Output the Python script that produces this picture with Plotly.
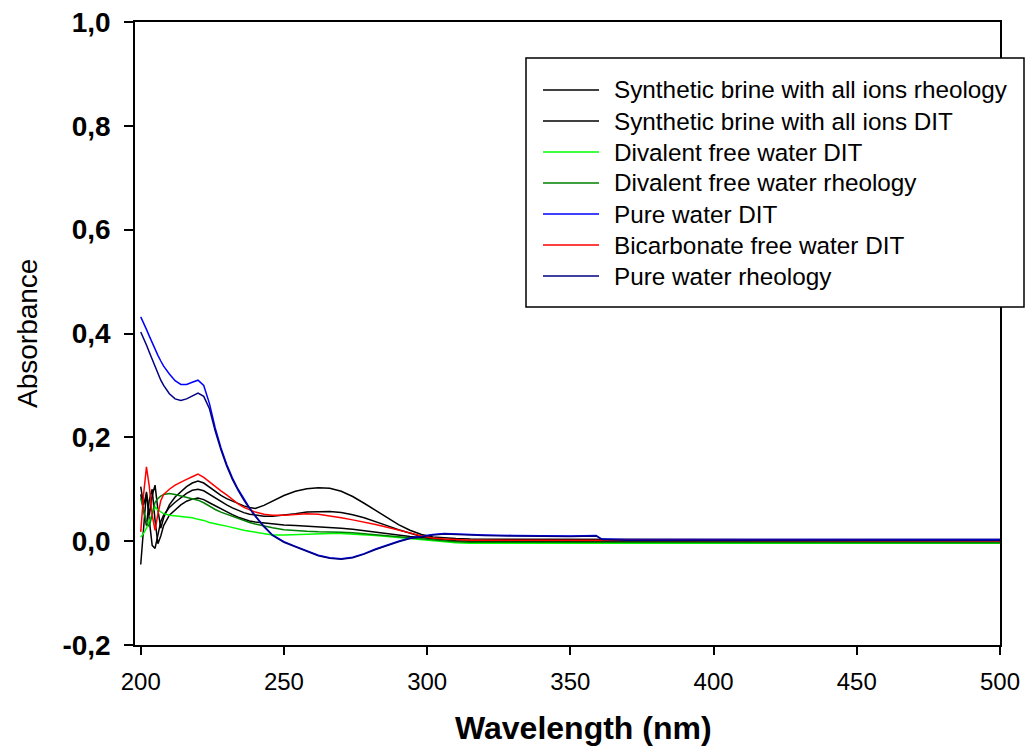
import plotly.graph_objects as go

wavelength = [200, 201, 202, 203, 204, 205, 206, 207, 208,
              210, 212, 214, 216, 218, 220, 222, 224, 226, 228, 230, 232, 234, 236, 238, 240,
              243, 246,
              250, 254, 258, 262, 266, 270, 274, 278, 282, 286, 290, 294, 298,
              302, 306, 310, 315, 320, 330, 340, 350, 359, 361, 370, 380,
              400, 420, 440, 460, 480, 500]

brine_rheology = [0.105, 0.070, 0.092, 0.050, 0.088, 0.108, 0.060, 0.025, 0.045,
                  0.070, 0.085, 0.096, 0.105, 0.112, 0.116, 0.112, 0.104, 0.096, 0.088, 0.082, 0.077, 0.072, 0.068, 0.065, 0.063,
                  0.069, 0.077,
                  0.088, 0.096, 0.101, 0.103, 0.102, 0.096, 0.086, 0.073, 0.059, 0.045, 0.032, 0.021, 0.013,
                  0.008, 0.006, 0.005, 0.004, 0.004, 0.003, 0.003, 0.003, 0.004, 0.003, 0.003, 0.003,
                  0.003, 0.003, 0.003, 0.003, 0.003, 0.003]

brine_dit = [-0.045, 0.020, 0.095, 0.040, -0.008, -0.014, 0.015, 0.038, 0.050,
             0.065, 0.075, 0.084, 0.092, 0.098, 0.100, 0.097, 0.090, 0.083, 0.076, 0.070, 0.064, 0.059, 0.055, 0.052, 0.050,
             0.048, 0.048,
             0.050, 0.053, 0.056, 0.057, 0.057, 0.055, 0.051, 0.045, 0.038, 0.030, 0.022, 0.015, 0.009,
             0.005, 0.002, 0.000, -0.001, 0.000, 0.000, 0.001, 0.001, 0.001, 0.001, 0.001, 0.001,
             0.001, 0.001, 0.001, 0.001, 0.001, 0.001]

brine_extra = [0.090, 0.060, 0.030, 0.080, 0.100, 0.040, -0.005, 0.010, 0.030,
               0.050, 0.060, 0.070, 0.077, 0.081, 0.083, 0.080, 0.074, 0.068, 0.062, 0.056, 0.051, 0.046, 0.042, 0.039, 0.037,
               0.035, 0.033,
               0.031, 0.030, 0.029, 0.028, 0.027, 0.025, 0.023, 0.020, 0.018, 0.015, 0.012, 0.009, 0.007,
               0.004, 0.002, 0.001, 0.000, 0.000, 0.000, 0.000, 0.000, 0.001, 0.001, 0.001, 0.001,
               0.001, 0.001, 0.001, 0.001, 0.001, 0.001]

divalent_free_dit = [0.008, 0.015, 0.025, 0.040, 0.055, 0.066, 0.060, 0.056, 0.053,
                     0.050, 0.049, 0.047, 0.046, 0.045, 0.042, 0.040, 0.036, 0.033, 0.031, 0.029, 0.026, 0.023, 0.021, 0.019, 0.017,
                     0.014, 0.012,
                     0.012, 0.013, 0.014, 0.015, 0.015, 0.015, 0.014, 0.013, 0.011, 0.009, 0.007, 0.005, 0.003,
                     0.000, -0.002, -0.003, -0.004, -0.004, -0.004, -0.004, -0.004, -0.004, -0.004, -0.004, -0.004,
                     -0.004, -0.004, -0.004, -0.004, -0.004, -0.004]

divalent_free_rheology = [0.083, 0.060, 0.035, 0.028, 0.050, 0.075, 0.082, 0.087, 0.090,
                          0.092, 0.090, 0.087, 0.084, 0.081, 0.079, 0.074, 0.067, 0.061, 0.056, 0.052, 0.047, 0.043, 0.039, 0.036, 0.033,
                          0.029, 0.026,
                          0.022, 0.020, 0.019, 0.018, 0.018, 0.017, 0.016, 0.014, 0.012, 0.010, 0.008, 0.006, 0.004,
                          0.002, 0.000, -0.001, -0.002, -0.002, -0.003, -0.003, -0.003, -0.003, -0.003, -0.003, -0.003,
                          -0.003, -0.003, -0.003, -0.003, -0.003, -0.003]

pure_water_dit = [0.432, 0.421, 0.408, 0.395, 0.382, 0.370, 0.358, 0.347, 0.337,
                  0.322, 0.309, 0.302, 0.302, 0.306, 0.310, 0.300, 0.265, 0.218, 0.180, 0.148, 0.122, 0.100, 0.081, 0.064, 0.049,
                  0.029, 0.012,
                  -0.001, -0.010, -0.019, -0.027, -0.032, -0.034, -0.031, -0.024, -0.015, -0.007, 0.000, 0.006, 0.010,
                  0.013, 0.015, 0.014, 0.013, 0.012, 0.011, 0.010, 0.010, 0.011, 0.004, 0.003, 0.003,
                  0.003, 0.003, 0.003, 0.003, 0.003, 0.003]

bicarbonate_free_dit = [0.018, 0.090, 0.143, 0.105, 0.050, 0.021, 0.052, 0.078, 0.090,
                        0.100, 0.108, 0.114, 0.119, 0.124, 0.129, 0.123, 0.114, 0.106, 0.097, 0.089, 0.080, 0.072, 0.065, 0.060, 0.056,
                        0.052, 0.050,
                        0.050, 0.052, 0.053, 0.052, 0.049, 0.045, 0.041, 0.037, 0.032, 0.027, 0.022, 0.016, 0.010,
                        0.006, 0.004, 0.003, 0.002, 0.002, 0.002, 0.002, 0.002, 0.002, 0.001, 0.001, 0.001,
                        0.001, 0.001, 0.001, 0.001, 0.001, 0.001]

pure_water_rheology = [0.403, 0.392, 0.378, 0.364, 0.350, 0.336, 0.322, 0.310, 0.300,
                       0.284, 0.274, 0.271, 0.274, 0.280, 0.285, 0.279, 0.255, 0.212, 0.176, 0.145, 0.119, 0.098, 0.079, 0.063, 0.048,
                       0.028, 0.011,
                       -0.002, -0.011, -0.020, -0.028, -0.033, -0.035, -0.032, -0.025, -0.016, -0.008, -0.001, 0.005, 0.009,
                       0.012, 0.014, 0.013, 0.012, 0.011, 0.010, 0.009, 0.009, 0.010, 0.003, 0.002, 0.002,
                       0.002, 0.002, 0.002, 0.002, 0.002, 0.002]

series_labels = ["Synthetic brine with all ions rheology",
                 "Synthetic brine with all ions DIT",
                 "Divalent free water DIT",
                 "Divalent free water rheology",
                 "Pure water DIT",
                 "Bicarbonate free water DIT",
                 "Pure water rheology"]
series_values = [brine_rheology, brine_dit, divalent_free_dit, divalent_free_rheology,
                 pure_water_dit, bicarbonate_free_dit, pure_water_rheology]
series_colors = ["#000000", "#000000", "#00FF00", "#008000", "#0000FF", "#FF0000", "#000080"]

xtick_vals = [200, 250, 300, 350, 400, 450, 500]
xtick_labels = ["200", "250", "300", "350", "400", "450", "500"]
ytick_vals = [-0.2, 0.0, 0.2, 0.4, 0.6, 0.8, 1.0]
ytick_labels = ["-0,2", "0,0", "0,2", "0,4", "0,6", "0,8", "1,0"]

FONT = "Liberation Sans, Arial, sans-serif"

# plot area in pixels: x 135..1000, y 22..645
PL, PR, PT, PB = 135, 1000, 22, 645
PW, PH = PR - PL, PB - PT


def px_x(px):
    return (px - PL) / PW


def px_y(py):
    return (PB - py) / PH


fig = go.Figure()
# unlabeled extra black curve
fig.add_trace(go.Scatter(x=wavelength, y=brine_extra, mode="lines",
                         line=dict(color="#000000", width=1.5), showlegend=False))
for lab, vals, col in zip(series_labels, series_values, series_colors):
    fig.add_trace(go.Scatter(x=wavelength, y=vals, mode="lines", name=lab,
                             line=dict(color=col, width=1.5), showlegend=False))

# manual legend (box, line samples, labels)
fig.add_shape(type="rect", xref="paper", yref="paper",
              x0=px_x(526), x1=px_x(1024), y0=px_y(307), y1=px_y(58),
              line=dict(color="black", width=1.5), fillcolor="white", layer="above")
for i, (lab, col) in enumerate(zip(series_labels, series_colors)):
    yy = px_y(90 + 31 * i)
    fig.add_shape(type="line", xref="paper", yref="paper",
                  x0=px_x(543), x1=px_x(599), y0=yy, y1=yy,
                  line=dict(color=col, width=1.5), layer="above")
    fig.add_annotation(xref="paper", yref="paper", x=px_x(612), y=yy,
                       text=lab, showarrow=False, xanchor="left", yanchor="middle",
                       font=dict(family=FONT, size=24.3, color="black"))

fig.add_annotation(xref="paper", yref="paper", x=px_x(27), y=px_y(334),
                   text="Absorbance", textangle=-90, showarrow=False,
                   xanchor="center", yanchor="middle",
                   font=dict(family=FONT, size=28, color="black"))
fig.add_annotation(xref="paper", yref="paper", x=px_x(583), y=px_y(728),
                   text="<b>Wavelength (nm)</b>", showarrow=False,
                   xanchor="center", yanchor="middle",
                   font=dict(family=FONT, size=32, color="black"))

fig.update_layout(
    width=1026, height=752,
    margin=dict(l=PL, r=1026 - PR, t=PT, b=752 - PB, autoexpand=False),
    paper_bgcolor="white", plot_bgcolor="white",
    font=dict(family=FONT, color="black"),
    showlegend=False,
)
fig.update_xaxes(range=[198, 500], tickvals=xtick_vals, ticktext=xtick_labels,
                 showgrid=False, zeroline=False, showline=True, mirror=True,
                 linecolor="black", linewidth=1.5, ticks="outside", ticklen=8,
                 tickwidth=1.5, tickcolor="black", automargin=False,
                 ticklabelstandoff=6,
                 tickfont=dict(family=FONT, size=24, color="black"))
fig.update_yaxes(range=[-0.2, 1.0], tickvals=ytick_vals, ticktext=ytick_labels,
                 showgrid=False, zeroline=False, showline=True, mirror=True,
                 linecolor="black", linewidth=1.5, ticks="outside", ticklen=9,
                 tickwidth=1.5, tickcolor="black", ticklabelstandoff=8,
                 automargin=False,
                 tickfont=dict(family=FONT, size=28, color="black", weight="bold"))

fig.write_html("out.html")
